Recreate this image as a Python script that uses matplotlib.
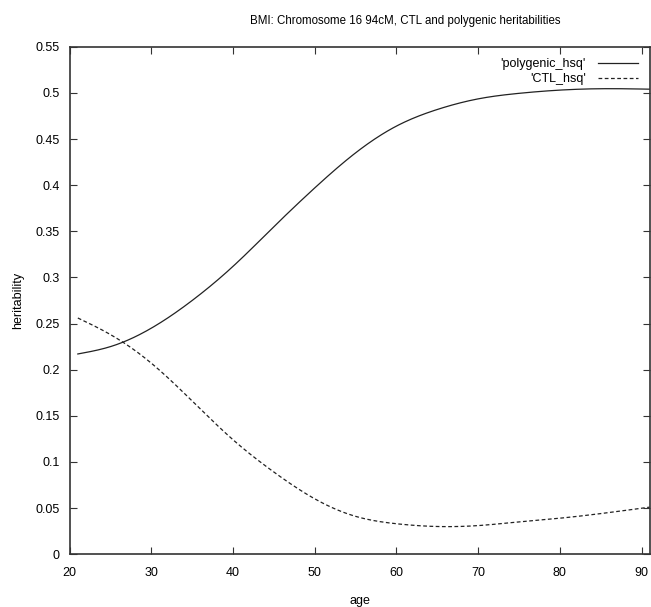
import matplotlib
matplotlib.use('Agg')
import matplotlib.pyplot as plt
import numpy as np

# heritability estimates by age
age = [21, 25, 30, 35, 40, 45, 50, 55, 60, 65, 70, 75, 80, 85, 91]
polygenic_hsq = [0.217, 0.225, 0.245, 0.275, 0.312, 0.355, 0.397, 0.435, 0.464,
                 0.482, 0.4935, 0.4995, 0.503, 0.5045, 0.504]
ctl_hsq = [0.256, 0.238, 0.207, 0.166, 0.124, 0.089, 0.060, 0.041, 0.033,
           0.030, 0.031, 0.035, 0.039, 0.044, 0.051]

x_ticks = [20, 30, 40, 50, 60, 70, 80, 90]
y_ticks = [0, 0.05, 0.1, 0.15, 0.2, 0.25, 0.3, 0.35, 0.4, 0.45, 0.5, 0.55]
y_labels = ['0', '0.05', '0.1', '0.15', '0.2', '0.25', '0.3', '0.35', '0.4',
            '0.45', '0.5', '0.55']

plt.rcParams['font.family'] = ['Liberation Sans', 'DejaVu Sans']
plt.rcParams['font.size'] = 9


def natural_spline(xs, ys, n=400):
    # natural cubic spline through the points, evaluated on a fine grid
    xs = np.asarray(xs, float)
    ys = np.asarray(ys, float)
    k = len(xs)
    h = np.diff(xs)
    A = np.zeros((k, k))
    b = np.zeros(k)
    A[0, 0] = A[-1, -1] = 1
    for i in range(1, k - 1):
        A[i, i - 1] = h[i - 1]
        A[i, i] = 2 * (h[i - 1] + h[i])
        A[i, i + 1] = h[i]
        b[i] = 3 * ((ys[i + 1] - ys[i]) / h[i] - (ys[i] - ys[i - 1]) / h[i - 1])
    c = np.linalg.solve(A, b)
    bb = (ys[1:] - ys[:-1]) / h - h * (2 * c[:-1] + c[1:]) / 3
    d = (c[1:] - c[:-1]) / (3 * h)
    xx = np.linspace(xs[0], xs[-1], n)
    idx = np.clip(np.searchsorted(xs, xx) - 1, 0, k - 2)
    t = xx - xs[idx]
    yy = ys[idx] + bb[idx] * t + c[idx] * t**2 + d[idx] * t**3
    return xx, yy


fig = plt.figure(figsize=(6.51, 6.07), dpi=100)
ax = fig.add_axes([0.107, 0.087, 0.891, 0.836])

px, py = natural_spline(age, polygenic_hsq)
cx, cy = natural_spline(age, ctl_hsq)
ax.plot(px, py, color='#222222', lw=0.9, label="'polygenic_hsq'")
ax.plot(cx, cy, color='#222222', lw=0.9, linestyle=(0, (3, 2)), label="'CTL_hsq'")

ax.set_xlim(20, 91)
ax.set_ylim(0, 0.55)
ax.set_xticks(x_ticks)
ax.set_yticks(y_ticks)
ax.set_yticklabels(y_labels)
ax.tick_params(direction='in', length=5, width=0.8, top=True, right=True,
               labelsize=9, color='#333333')
ax.tick_params(axis='x', pad=9)
ax.tick_params(axis='y', pad=7)
for s in ax.spines.values():
    s.set_linewidth(1.2)
    s.set_color('#333333')

ax.set_xlabel('age', labelpad=12)
ax.set_ylabel('heritability', labelpad=8)
fig.text(0.622, 0.965, 'BMI: Chromosome 16 94cM, CTL and polygenic heritabilities',
         ha='center', va='center', fontsize=8.3)

leg = ax.legend(loc='upper right', frameon=False, handlelength=3.2, handletextpad=1.0,
                markerfirst=False, borderaxespad=0.5, labelspacing=0.25, fontsize=9)

fig.savefig('out.png', dpi=100)
